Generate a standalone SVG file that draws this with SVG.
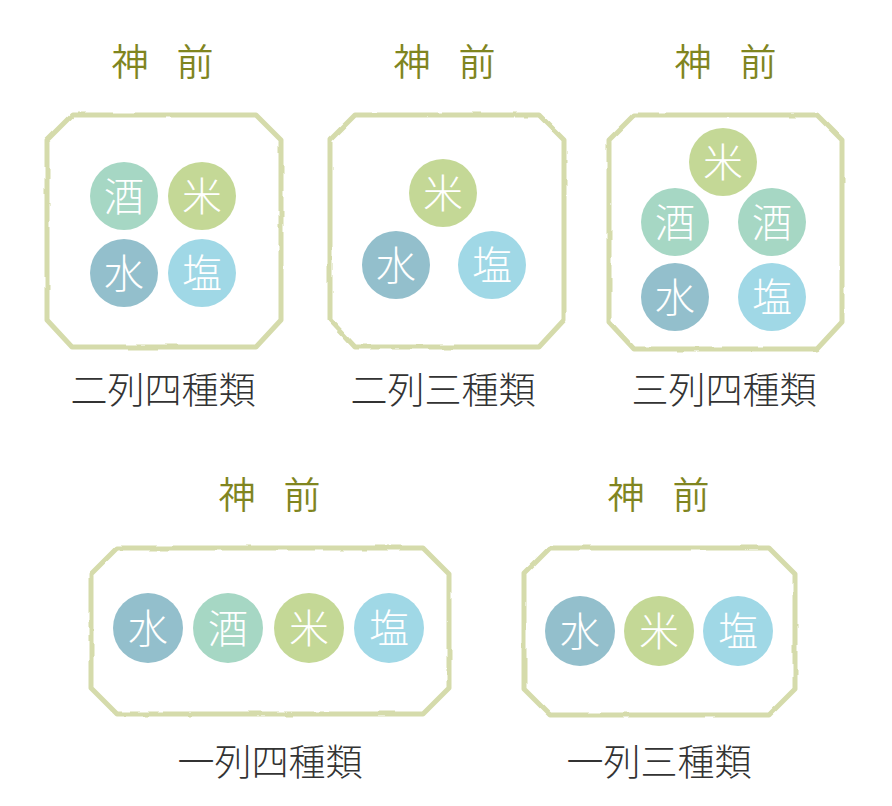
<svg xmlns="http://www.w3.org/2000/svg" width="892" height="806" viewBox="0 0 892 806">
<style>
.frame{fill:#ffffff;stroke:#d5dbab;stroke-width:5;stroke-linejoin:round;filter:url(#rough)}
.title{font-family:"Noto Sans CJK JP","Noto Sans",sans-serif;font-size:37px;font-weight:350;fill:#80851f;text-anchor:middle}
.label{font-family:"Noto Sans CJK JP","Noto Sans",sans-serif;font-size:37px;font-weight:300;fill:#333333;text-anchor:middle}
.c-text{font-family:"Noto Sans CJK JP","Noto Sans",sans-serif;font-size:40px;font-weight:300;fill:#ffffff;text-anchor:middle}
.sake{fill:#a6d7c4}
.kome{fill:#c4d896}
.mizu{fill:#93bfcc}
.shio{fill:#a0d8e6}
</style>
<defs>
<filter id="rough" x="-5%" y="-5%" width="110%" height="110%">
<feTurbulence type="fractalNoise" baseFrequency="0.05" numOctaves="2" seed="3" result="n"/>
<feDisplacementMap in="SourceGraphic" in2="n" scale="2.5" xChannelSelector="R" yChannelSelector="G"/>
</filter>
</defs>
<rect width="892" height="806" fill="#ffffff"/>

<g id="layout-1">
<text class="title" y="76"><tspan x="130">神</tspan><tspan x="195">前</tspan></text>
<path class="frame" d="M72,115 L256,115 L281,140 L281,320 L256,347 L72,347 L47,320 L47,140 Z"/>
<circle class="sake" cx="124" cy="196" r="34"/><text class="c-text" x="124" y="211">酒</text>
<circle class="kome" cx="202" cy="196" r="34"/><text class="c-text" x="202" y="211">米</text>
<circle class="mizu" cx="124" cy="273" r="34"/><text class="c-text" x="124" y="288">水</text>
<circle class="shio" cx="202" cy="273" r="34"/><text class="c-text" x="202" y="288">塩</text>
<text class="label" x="163" y="404">二列四種類</text>
</g>

<g id="layout-2">
<text class="title" y="76"><tspan x="412">神</tspan><tspan x="477">前</tspan></text>
<path class="frame" d="M355,115 L539,115 L564,140 L564,320 L539,347 L355,347 L330,320 L330,140 Z"/>
<circle class="kome" cx="443" cy="193" r="34"/><text class="c-text" x="443" y="208">米</text>
<circle class="mizu" cx="396" cy="265" r="34"/><text class="c-text" x="396" y="280">水</text>
<circle class="shio" cx="492" cy="265" r="34"/><text class="c-text" x="492" y="280">塩</text>
<text class="label" x="443" y="404">二列三種類</text>
</g>

<g id="layout-3">
<text class="title" y="76"><tspan x="693">神</tspan><tspan x="758">前</tspan></text>
<path class="frame" d="M634,115 L817,115 L842,140 L842,322 L817,349 L634,349 L609,322 L609,140 Z"/>
<circle class="kome" cx="723" cy="162" r="34"/><text class="c-text" x="723" y="177">米</text>
<circle class="sake" cx="675" cy="222" r="34"/><text class="c-text" x="675" y="237">酒</text>
<circle class="sake" cx="772" cy="222" r="34"/><text class="c-text" x="772" y="237">酒</text>
<circle class="mizu" cx="675" cy="297" r="34"/><text class="c-text" x="675" y="312">水</text>
<circle class="shio" cx="772" cy="297" r="34"/><text class="c-text" x="772" y="312">塩</text>
<text class="label" x="724" y="404">三列四種類</text>
</g>

<g id="layout-4">
<text class="title" y="509"><tspan x="237">神</tspan><tspan x="302">前</tspan></text>
<path class="frame" d="M117,548 L423,548 L449,574 L449,688 L423,714 L117,714 L91,688 L91,574 Z"/>
<circle class="mizu" cx="148" cy="628" r="35"/><text class="c-text" x="148" y="643">水</text>
<circle class="sake" cx="228" cy="628" r="35"/><text class="c-text" x="228" y="643">酒</text>
<circle class="kome" cx="309" cy="628" r="35"/><text class="c-text" x="309" y="643">米</text>
<circle class="shio" cx="389" cy="628" r="35"/><text class="c-text" x="389" y="643">塩</text>
<text class="label" x="270" y="776">一列四種類</text>
</g>

<g id="layout-5">
<text class="title" y="509"><tspan x="626">神</tspan><tspan x="691">前</tspan></text>
<path class="frame" d="M550,548 L769,548 L795,574 L795,689 L769,715 L550,715 L524,689 L524,574 Z"/>
<circle class="mizu" cx="580" cy="631" r="35"/><text class="c-text" x="580" y="646">水</text>
<circle class="kome" cx="659" cy="631" r="35"/><text class="c-text" x="659" y="646">米</text>
<circle class="shio" cx="738" cy="631" r="35"/><text class="c-text" x="738" y="646">塩</text>
<text class="label" x="659" y="776">一列三種類</text>
</g>

<g id="connectors"></g>
</svg>
